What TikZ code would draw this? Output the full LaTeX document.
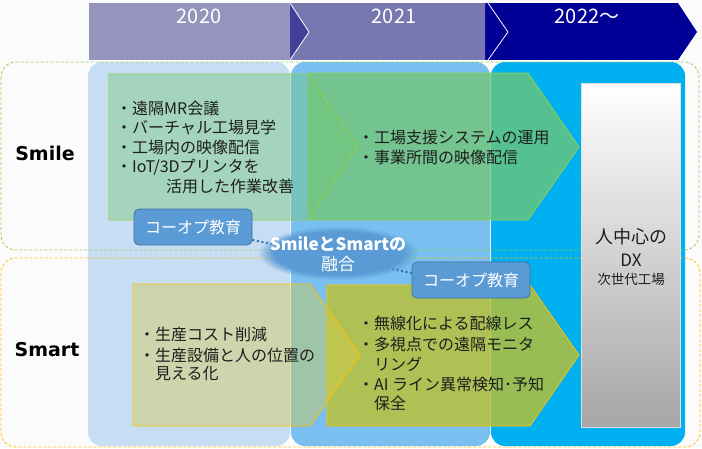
\documentclass[tikz,border=0pt]{standalone}
\usepackage{fontspec}
\setmainfont{Noto Sans CJK JP}
\newfontfamily\dvs{DejaVu Sans}
\usetikzlibrary{fadings}
\definecolor{bgc}{HTML}{FBFBFB}
\definecolor{colA}{HTML}{C6DDF3}
\definecolor{colB}{HTML}{79BFEF}
\definecolor{colC}{HTML}{00B0F0}
\definecolor{hdrA}{HTML}{9494BC}
\definecolor{hdrB}{HTML}{7878B0}
\definecolor{hdrT}{HTML}{404098}
\definecolor{hdrC}{HTML}{000096}
\definecolor{smileline}{HTML}{92D050}
\definecolor{smartline}{HTML}{FFC000}
\definecolor{gfill}{HTML}{73C770}
\definecolor{yfillA}{HTML}{D6CC48}
\definecolor{yfillB}{HTML}{BBC133}
\definecolor{coopfill}{HTML}{5B9BD5}
\definecolor{coopedge}{HTML}{41719C}
\definecolor{dotc}{HTML}{2E75B6}
\definecolor{txtc}{HTML}{1E1E1E}
\begin{document}
\begin{tikzpicture}[x=1pt,y=-1pt,
  yearcol/.style={rounded corners=14pt},
  groupbox/.style={rounded corners=15pt, line width=0.9pt, dash pattern=on 3pt off 2pt, draw opacity=0.9},
  yeartxt/.style={text=white, font=\fontsize{20}{22}\selectfont, inner sep=0pt},
  greenarrow/.style={draw=smileline, line width=0.8pt, fill=gfill},
  yellowarrow/.style={draw=smartline, line width=0.8pt},
  jtxt/.style={anchor=west, inner sep=0pt, text=txtc, font=\fontsize{16}{19}\selectfont},
  grouplabel/.style={inner sep=0pt, text=black, font=\dvs\bfseries\fontsize{19}{22}\selectfont},
  coop/.style={draw=coopedge, fill=coopfill, rounded corners=5pt, line width=0.8pt, text=white,
    font=\fontsize{16}{18}\selectfont, minimum width=118pt, minimum height=36pt, inner sep=0pt},
  dxbox/.style={draw=white!88!black, line width=0.8pt, top color=white, middle color=white!86!black,
    bottom color=white!65!black, minimum width=99pt, minimum height=344pt, inner sep=0pt},
  dxtxt/.style={inner sep=0pt, text=txtc},
  dotline/.style={draw=dotc, line width=2.2pt, dash pattern=on 2pt off 2.6pt}
]
\useasboundingbox (0,0) rectangle (702,448);
\fill[bgc] (0,0) rectangle (702,448);

% year columns
\fill[colA, yearcol] (88,62) rectangle (290,446);
\fill[colB, yearcol] (291,62) rectangle (490,446);
\fill[colC, yearcol] (491,62) rectangle (685,446);

% group dashed boxes
\draw[smileline, groupbox] (1,62) rectangle (699,250);
\draw[smartline, groupbox] (1,258) rectangle (700,447);

% header
\fill[hdrC] (89,3) -- (678,3) -- (697,32) -- (678,60) -- (89,60) -- cycle;
\fill[hdrA] (89,3) rectangle (290,60);
\fill[hdrB] (290,3) -- (485,3) -- (485,60) -- (290,60) -- (309,32) -- cycle;
\fill[hdrT] (290,3) -- (309,32) -- (290,60) -- cycle;
\draw[white, line width=0.8pt] (290,3) -- (309,32) -- (290,60);
\draw[white, line width=0.8pt] (488,3) -- (508,32) -- (488,60);
\draw[white, line width=0.6pt] (89,60.5) -- (678,60.5);
\node[yeartxt] (y20) at (199,16) {2020};
\node[yeartxt] (y21) at (394,16) {2021};
\node[yeartxt] (y22) at (587,16) {2022～};

% group labels
\node[grouplabel] (smile) at (45,153) {Smile};
\node[grouplabel] (smart) at (47,350) {Smart};

% Smile arrows
\path[greenarrow, fill opacity=0.74] (308,73) -- (528,73) -- (579,147) -- (528,220) -- (308,220) -- cycle;
\path[greenarrow, fill opacity=0.4] (109,74) -- (308,74) -- (358,147) -- (308,220) -- (109,220) -- cycle;

% Smart arrows
\path[yellowarrow, fill=yfillB, fill opacity=0.82] (327,285) -- (530,285) -- (579,355) -- (530,426) -- (327,426) -- cycle;
\path[yellowarrow, fill=yfillA, fill opacity=0.42] (133,284) -- (310,284) -- (360,355) -- (310,426) -- (133,426) -- cycle;

% Smile texts
\node[jtxt] (s1a) at (116,108) {・遠隔MR会議};
\node[jtxt] (s1b) at (116,127) {・バーチャル工場見学};
\node[jtxt] (s1c) at (116,147) {・工場内の映像配信};
\node[jtxt] (s1d) at (116,167) {・IoT/3Dプリンタを};
\node[jtxt] (s1e) at (166,186) {活用した作業改善};
\node[jtxt] (s2a) at (358,137) {・工場支援システムの運用};
\node[jtxt] (s2b) at (358,157) {・事業所間の映像配信};

% Smart texts
\node[jtxt] (m1a) at (139,334) {・生産コスト削減};
\node[jtxt] (m1b) at (139,355) {・生産設備と人の位置の};
\node[jtxt] (m1c) at (155,374) {見える化};
\node[jtxt] (m2a) at (358,323) {・無線化による配線レス};
\node[jtxt] (m2b) at (358,344) {・多視点での遠隔モニタ};
\node[jtxt] (m2c) at (374,364) {リング};
\node[jtxt] (m2d) at (358,384) {・AI ライン異常検知･予知};
\node[jtxt] (m2e) at (374,403) {保全};

% DX box
\node[dxbox] (dx) at (630.5,255) {};
\node[dxtxt, font=\fontsize{18}{20}\selectfont] (dxa) at (631,237) {人中心の};
\node[dxtxt, font=\fontsize{17}{18}\selectfont] (dxb) at (631,260) {DX};
\node[dxtxt, font=\fontsize{13.5}{15}\selectfont] (dxc) at (631,279) {次世代工場};

% co-op boxes and fusion
\node[coop] (coopA) at (193,227) {コーオプ教育};
\node[coop] (coopB) at (471,280) {コーオプ教育};
\draw[dotline] ([yshift=-13pt]coopA.east) -- ([yshift=7pt]coopB.west);
\fill[coopfill, path fading=circle with fuzzy edge 20 percent] (338,253) ellipse [x radius=80, y radius=27];
\node[inner sep=0pt, text=white, align=center, font=\fontsize{17}{20}\selectfont] (fusion) at (338,254) {\textbf{SmileとSmartの}\\融合};
\end{tikzpicture}
\end{document}
